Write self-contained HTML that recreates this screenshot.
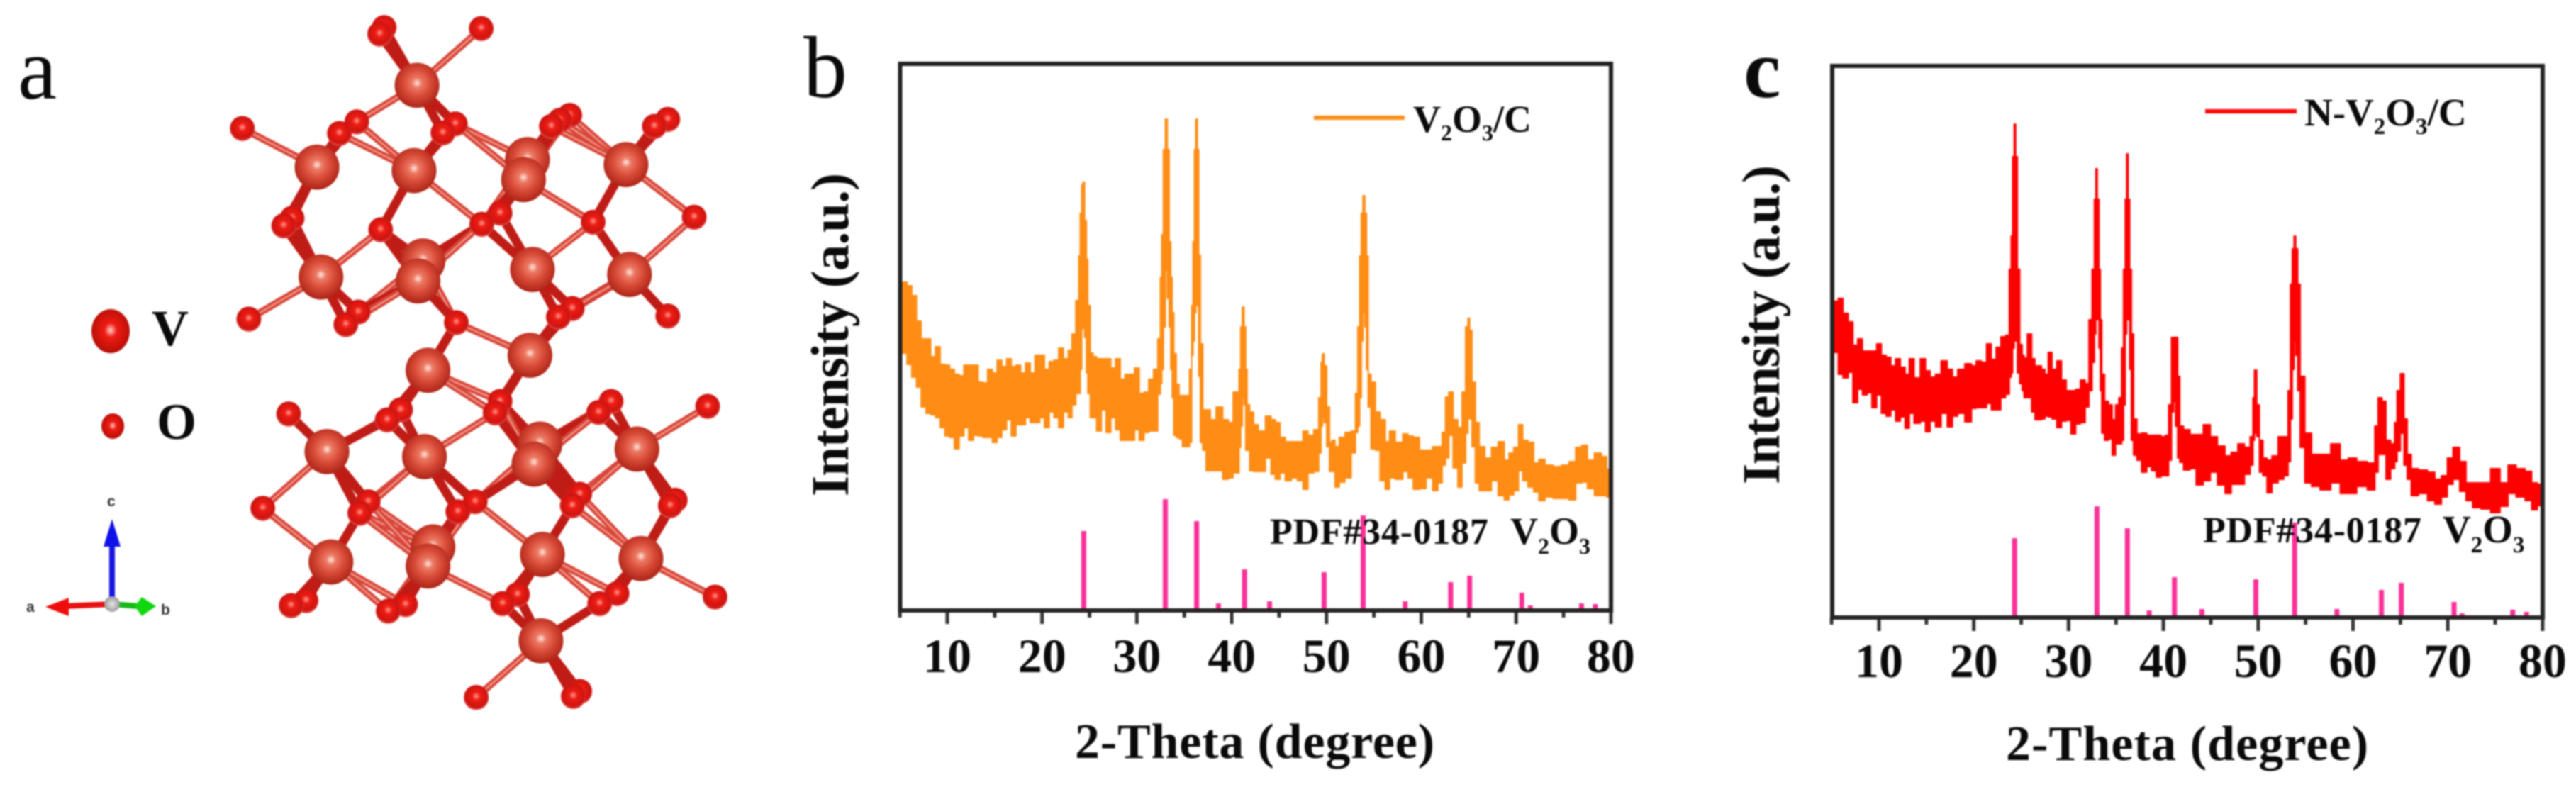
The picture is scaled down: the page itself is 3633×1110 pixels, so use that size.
<!DOCTYPE html>
<html lang="en">
<head>
<meta charset="utf-8">
<title>V2O3 crystal structure and XRD patterns</title>
<style>
html,body{margin:0;padding:0;background:#fff;width:3633px;height:1110px;overflow:hidden}
svg{display:block;filter:blur(1px)}
text{font-family:"Liberation Serif","Times New Roman",serif;fill:#0a0a0a}
.b{font-weight:bold}
</style>
</head>
<body>
<svg id="fig" xmlns="http://www.w3.org/2000/svg" width="3633" height="1110" viewBox="0 0 3633 1110">
<defs>
<radialGradient id="gv" cx="50%" cy="45%" r="55%"><stop offset="0" stop-color="#ffe8e0"/><stop offset=".2" stop-color="#ec7a64"/><stop offset=".55" stop-color="#d84a38"/><stop offset="1" stop-color="#ac2416"/></radialGradient>
<radialGradient id="go" cx="50%" cy="45%" r="55%"><stop offset="0" stop-color="#ff9a90"/><stop offset=".3" stop-color="#ee1c14"/><stop offset=".8" stop-color="#cc1410"/><stop offset="1" stop-color="#e8504a"/></radialGradient>
<radialGradient id="gl" cx="50%" cy="48%" r="55%"><stop offset="0" stop-color="#ffd0c8"/><stop offset=".3" stop-color="#ee1c14"/><stop offset=".85" stop-color="#c01008"/><stop offset="1" stop-color="#9c0c06"/></radialGradient>
<radialGradient id="gg" cx="50%" cy="50%" r="50%"><stop offset="0" stop-color="#e8e8e8"/><stop offset="1" stop-color="#9a9a9a"/></radialGradient>
</defs>

<g id="panelA">
  <text x="25" y="139" font-size="124">a</text>
  <g id="crystal" transform="scale(0.7018 0.7077)"></g>
  <ellipse cx="156" cy="467" rx="27" ry="31" fill="url(#gl)"/>
  <text x="214" y="487" font-size="72" class="b">V</text>
  <ellipse cx="159" cy="601" rx="16" ry="18" fill="url(#gl)"/>
  <text x="221" y="619" font-size="72" class="b">O</text>
  <g>
    <line x1="158" y1="852" x2="158" y2="765" stroke="#1414e0" stroke-width="8"/>
    <polygon points="158,732 146,771 170,771" fill="#1010e8"/>
    <line x1="158" y1="852" x2="90" y2="855" stroke="#e81010" stroke-width="8"/>
    <polygon points="64,856 97,843 97,869" fill="#f00c0c"/>
    <line x1="158" y1="852" x2="195" y2="855" stroke="#18b818" stroke-width="8"/>
    <polygon points="220,855 200,842 190,855 200,869" fill="#10d810"/>
    <circle cx="158" cy="852" r="11" fill="url(#gg)"/>
    <text x="37" y="863" font-size="21" class="b" style="font-family:'Liberation Sans',sans-serif;fill:#333">a</text>
    <text x="151" y="714" font-size="21" class="b" style="font-family:'Liberation Sans',sans-serif;fill:#333">c</text>
    <text x="227" y="867" font-size="21" class="b" style="font-family:'Liberation Sans',sans-serif;fill:#333">b</text>
  </g>
</g>

<g id="panelB">
  <text x="1133" y="137" font-size="124">b</text>
  <g id="seriesB"></g>
  <g id="barsB"></g>
  <g id="ticksB"></g>
  <rect x="1269.5" y="90" width="1002.5" height="771" fill="none" stroke="#222" stroke-width="6"/>
  <text transform="translate(1196 700) rotate(-90)" font-size="75" class="b" textLength="456">Intensity (a.u.)</text>
  <text x="1516" y="1069" font-size="70" class="b" textLength="507">2-Theta (degree)</text>
  <line x1="1853" x2="1981" y1="166" y2="166" stroke="#ff8c14" stroke-width="6"/>
  <text x="1993" y="186" font-size="54" class="b">V<tspan dy="12" font-size="32">2</tspan><tspan dy="-12">O</tspan><tspan dy="12" font-size="32">3</tspan><tspan dy="-12">/C</tspan></text>
  <text x="1791" y="767" font-size="52" class="b" textLength="308">PDF#34-0187</text>
  <text x="2130" y="767" font-size="54" class="b">V<tspan dy="14" font-size="32">2</tspan><tspan dy="-14">O</tspan><tspan dy="14" font-size="32">3</tspan></text>
</g>

<g id="panelC">
  <text x="2459" y="137" font-size="118" class="b">c</text>
  <g id="seriesC"></g>
  <g id="barsC"></g>
  <g id="ticksC"></g>
  <rect x="2584" y="93" width="1002" height="778" fill="none" stroke="#222" stroke-width="6"/>
  <text transform="translate(2509 683) rotate(-90)" font-size="75" class="b" textLength="450">Intensity (a.u.)</text>
  <text x="2829" y="1072" font-size="70" class="b" textLength="511">2-Theta (degree)</text>
  <line x1="3110" x2="3239" y1="157" y2="157" stroke="#ff0000" stroke-width="6"/>
  <text x="3250" y="177" font-size="55" class="b">N-V<tspan dy="12" font-size="33">2</tspan><tspan dy="-12">O</tspan><tspan dy="12" font-size="33">3</tspan><tspan dy="-12">/C</tspan></text>
  <text x="3107" y="765" font-size="52" class="b" textLength="308">PDF#34-0187</text>
  <text x="3445" y="765" font-size="55" class="b">V<tspan dy="14" font-size="33">2</tspan><tspan dy="-14">O</tspan><tspan dy="14" font-size="33">3</tspan></text>
</g>
</svg>

<script>
/* ---------- shared axis data ---------- */
const majorTicks = [10,20,30,40,50,60,70,80];
const minorTicks = [5,15,25,35,45,55,65,75];

/* ---------- panel b: V2O3/C (band of noisy pattern: upper / lower trace per 2-theta) ---------- */
const thetaB = [5,5.5,6,6.5,7,7.5,8,8.5,9,9.5,10,10.5,11,11.5,12,12.5,13,13.5,14,14.5,15,15.5,16,16.5,17,17.5,18,18.5,19,19.5,20,20.5,21,21.5,22,22.5,23,23.3,23.8,23.95,24.1,24.26,24.36,24.6,24.75,24.9,25.25,25.5,26,26.5,27,27.5,28,28.5,29,29.5,30,30.5,31,31.5,32,32.4,32.55,32.7,32.9,33.1,33.3,33.5,33.65,33.8,34,34.3,34.6,35,35.4,35.7,35.85,36,36.15,36.3,36.45,36.6,36.8,37.1,37.5,38,38.7,39.4,39.9,40.4,40.7,40.85,41.05,41.2,41.4,41.55,41.7,42.1,42.5,43.1,44,44.3,44.9,45.3,46,46.6,47.25,47.8,48.3,49,49.35,49.5,49.65,49.85,50.2,50.45,50.7,51.1,51.6,52.3,52.9,53.2,53.4,53.6,53.75,53.94,54.15,54.3,54.5,54.9,55.4,55.9,56.5,56.8,57.7,58.4,58.8,59.5,60.1,60.9,61.5,62,62.4,62.7,63.1,63.6,64.1,64.5,64.85,65,65.2,65.5,65.9,66.3,67.1,67.7,68.5,69,69.5,70,70.5,70.9,71.6,72.1,72.7,73.4,74.4,75.2,75.96,76.6,77.25,77.8,78.7,79.3,79.8];
const upperB = [463,463,458,444,408,383,383,358,372,347,346,340,333,331,346,346,346,322,321,340,335,353,344,355,344,346,335,349,335,360,360,340,351,353,370,355,367,390,437,500,560,600,604,550,495,430,363,358,355,355,355,342,355,326,333,333,342,306,308,326,340,383,470,530,650,693,650,520,470,420,362,319,303,303,303,340,430,520,650,693,650,501,376,283,283,269,287,269,265,308,308,340,400,428,400,340,290,280,262,253,274,269,265,244,238,238,238,253,247,255,300,350,362,345,287,237,240,231,244,251,253,306,400,500,560,585,560,500,333,322,280,269,238,253,237,249,246,244,226,226,231,231,251,301,308,269,258,308,400,412,395,322,265,231,215,230,238,212,222,230,262,240,237,208,213,205,203,205,210,230,233,212,222,217,199];
const lowerB = [363,363,347,329,315,287,278,276,272,258,246,244,228,246,258,240,247,246,244,244,237,244,255,269,246,262,262,272,265,265,272,258,280,272,258,280,272,290,306,306,340,397,400,385,335,306,272,272,253,283,251,272,255,240,240,240,255,240,251,253,253,305,320,340,400,480,440,400,340,300,247,244,242,231,231,237,360,380,420,470,430,330,237,226,197,197,197,185,187,194,194,230,260,300,290,226,226,197,196,196,215,192,185,194,183,187,183,171,194,196,222,260,272,265,231,196,196,174,181,187,222,251,260,300,380,420,400,340,287,228,226,183,171,187,185,196,187,171,172,187,169,180,205,215,247,201,174,208,250,272,270,231,180,169,169,183,162,156,163,169,197,183,174,167,155,160,158,158,156,180,181,172,162,162,160];
const refThetaB = [24.39,33,36.3,38.6,41.35,44,49.75,53.87,56.65,58.3,63.1,65.1,70.6,71.5,76.9,78.35];
const refValuesB = [112,157,126,10,58,13,54,134,3,13,40,49,25,7,10,9];

/* ---------- panel c: N-V2O3/C ---------- */
const thetaC = [5,5.5,5.9,6.5,7,7.5,8,8.5,9,9.5,10,10.5,11,11.5,12,12.5,13,13.4,14,14.7,15.1,15.7,16.2,16.9,17.5,18,18.6,19.5,20,20.5,21.1,21.6,22.1,22.6,23.1,23.6,23.9,24,24.2,24.33,24.5,24.7,25,25.2,25.4,25.9,26.3,26.6,27,27.3,27.7,28,28.5,29,29.5,30,30.5,31,31.5,32,32.3,32.65,32.8,32.94,33.1,33.3,33.4,33.6,34,34.4,34.8,35.1,35.5,35.7,35.9,36.05,36.2,36.35,36.55,36.7,37,37.4,38,38.5,39,39.5,40,40.4,40.7,41,41.17,41.4,41.6,41.85,42.4,43.2,43.7,44.7,45.2,46.2,46.8,47.5,48.2,48.9,49.4,49.5,49.7,50,50.25,50.75,51.1,51.8,52.4,53,53.3,53.5,53.7,53.87,54.05,54.3,54.55,55.3,55.95,57.1,58.2,59.1,59.9,60.9,62.1,62.5,62.8,63.3,63.65,64.3,64.5,64.8,65.2,65.55,65.9,66.4,67.4,68.3,68.96,69.7,70.2,70.9,71.6,72.25,73,74,75.03,76,76.7,77.7,78.6,79.1,79.8];
const upperC = [446,446,450,429,417,384,393,376,376,376,386,370,367,355,365,353,343,365,338,365,348,339,343,362,350,339,350,358,355,362,360,386,364,381,396,398,491,538,650,696,650,491,385,370,366,400,365,355,355,350,343,374,350,362,335,320,320,322,335,330,420,491,590,633,590,491,420,343,305,300,279,300,310,380,491,590,654,590,491,400,280,259,260,257,257,257,255,257,300,395,395,395,340,270,265,258,258,272,255,242,228,233,245,240,255,310,349,300,250,225,222,228,255,255,320,470,520,538,520,470,340,260,230,230,245,222,225,220,218,270,310,305,250,245,275,320,344,280,230,210,208,205,195,200,225,240,220,190,190,190,210,190,215,210,206,190,188];
const lowerC = [381,374,343,338,346,303,322,314,317,296,314,288,284,293,277,283,267,288,274,277,262,277,269,288,269,284,288,276,295,296,296,302,293,293,310,315,339,345,380,400,390,345,330,320,310,310,290,279,279,280,284,283,280,268,277,278,259,273,275,297,320,360,400,430,420,380,320,260,250,252,229,245,245,250,300,400,430,420,350,250,229,222,205,213,207,198,200,200,222,290,305,270,225,219,208,210,187,193,205,187,175,188,188,202,215,250,260,255,205,200,176,190,195,200,220,280,350,390,370,320,240,190,185,180,190,175,175,185,180,205,230,230,195,210,220,235,260,215,195,172,175,165,160,170,188,195,178,165,155,153,148,157,175,170,165,152,158];
const refThetaC = [24.3,32.99,36.2,38.5,41.17,44.06,49.75,53.84,56.7,58.3,63,65.1,70.66,71.5,76.85,78.3];
const refValuesC = [112,157,126,10,57,12,54,134,3,12,39,49,22,6,11,8];

const SVGNS = 'http://www.w3.org/2000/svg';
function mk(tag, attrs, parent){
  const el = document.createElementNS(SVGNS, tag);
  for (const k in attrs) el.setAttribute(k, attrs[k]);
  parent.appendChild(el);
  return el;
}

/* axis functions: 2-theta scale and intensity scale (a.u. above baseline) */
function xAxis(x10){ return t => x10 + (t - 10) * 13.37; }
function yAxis(base){ return v => base - v; }

/* stepped trace: each reading holds its level between the midpoints to its neighbours */
function stepEdges(theta, i){
  const left = i > 0 ? (theta[i-1] + theta[i]) / 2 : theta[i];
  const right = i < theta.length - 1 ? (theta[i] + theta[i+1]) / 2 : theta[i];
  return [left, right];
}

function drawPanel(cfg){
  const x = xAxis(cfg.x10), y = yAxis(cfg.base);
  let d = '';
  cfg.theta.forEach((t,i) => {
    const e = stepEdges(cfg.theta, i);
    d += (i ? 'L' : 'M') + x(e[0]).toFixed(1) + ' ' + y(cfg.upper[i]).toFixed(1);
    d += 'L' + x(e[1]).toFixed(1) + ' ' + y(cfg.upper[i]).toFixed(1);
  });
  for (let i = cfg.theta.length - 1; i >= 0; i--) {
    const e = stepEdges(cfg.theta, i);
    d += 'L' + x(e[1]).toFixed(1) + ' ' + y(cfg.lower[i]).toFixed(1);
    d += 'L' + x(e[0]).toFixed(1) + ' ' + y(cfg.lower[i]).toFixed(1);
  }
  const band = mk('path', {d: d + 'Z', fill: cfg.color, stroke: cfg.color, 'stroke-width': 2, 'stroke-linejoin': 'round'}, cfg.series);
  
  
  /* reference bars */
  cfg.refTheta.forEach((t,i) => {
    const bar = mk('rect', {x: x(t) - 3.5, y: y(cfg.refValues[i]), width: 7, height: cfg.refValues[i], fill: '#fb2f97'}, cfg.bars);
    
    
  });
  /* ticks */
  majorTicks.forEach(t => {
    const tick = mk('line', {x1: x(t), x2: x(t), y1: cfg.base, y2: cfg.base + 19, stroke: '#333', 'stroke-width': 5}, cfg.ticks);
    
    
    const lab = mk('text', {x: x(t), y: cfg.labelY, 'font-size': 68, 'text-anchor': 'middle', 'class': 'b'}, cfg.ticks);
    lab.textContent = t;
    
    
  });
  minorTicks.forEach(t => {
    const tick = mk('line', {x1: x(t), x2: x(t), y1: cfg.base, y2: cfg.base + 10, stroke: '#333', 'stroke-width': 5}, cfg.ticks);
    
    
  });
}

drawPanel({x10: 1336, base: 861, color: '#ff8c14', theta: thetaB, upper: upperB, lower: lowerB, refTheta: refThetaB, refValues: refValuesB, labelY: 948,
  series: document.getElementById('seriesB'), bars: document.getElementById('barsB'), ticks: document.getElementById('ticksB')});
drawPanel({x10: 2650, base: 871, color: '#ff0000', theta: thetaC, upper: upperC, lower: lowerC, refTheta: refThetaC, refValues: refValuesC, labelY: 955,
  series: document.getElementById('seriesC'), bars: document.getElementById('barsC'), ticks: document.getElementById('ticksC')});

/* ---------- crystal structure diagram ---------- */
const vanadium = [[1060,318],[850,520],[870,1090],[1085,885],[838,170],[637,333],[832,340],[1052,358],[1258,328],[645,552],[840,560],[1070,537],[1265,547],[860,738],[1065,708],[657,900],[853,910],[1073,925],[1280,895],[665,1120],[1090,1105],[860,1128],[1288,1113],[1087,1277]];
const oxygen = [[772,55],[763,68],[967,57],[487,256],[717,243],[682,266],[915,247],[890,265],[1145,230],[1125,240],[1108,252],[1342,238],[1315,252],[587,435],[570,450],[765,458],[1005,425],[968,447],[1192,443],[1395,433],[500,636],[720,622],[695,647],[917,643],[1150,615],[1122,632],[1342,630],[580,825],[805,817],[778,837],[1005,800],[995,823],[1228,800],[1203,822],[1422,810],[528,1013],[740,1000],[723,1023],[955,1000],[920,1020],[1165,985],[1150,1008],[1357,997],[1347,1008],[615,1197],[585,1207],[815,1205],[780,1218],[1040,1185],[1010,1203],[1240,1183],[1205,1203],[1437,1190],[957,1390],[1165,1378],[1152,1388]];
const crystal = document.getElementById('crystal');
vanadium.forEach(v => {
  oxygen.forEach(o => {
    const dist = Math.hypot(v[0] - o[0], v[1] - o[1]);
    if (dist < 178) {
      const heavy = dist < 140;
      const bond = mk('line', {x1: v[0], y1: v[1], x2: o[0], y2: o[1], stroke: heavy ? '#c01c16' : '#d8463a', 'stroke-width': heavy ? 18 : 14}, crystal);
      
      
      if (!heavy) {
        const core = mk('line', {x1: v[0], y1: v[1], x2: o[0], y2: o[1], stroke: '#f4a090', 'stroke-width': 3}, crystal);
        
        
      }
    }
  });
});
oxygen.forEach(o => {
  const atom = mk('circle', {cx: o[0], cy: o[1], r: 25, fill: 'url(#go)'}, crystal);
  
  
});
vanadium.forEach(v => {
  const atom = mk('circle', {cx: v[0], cy: v[1], r: 45, fill: 'url(#gv)'}, crystal);
  
  
});
</script>
</body>
</html>
